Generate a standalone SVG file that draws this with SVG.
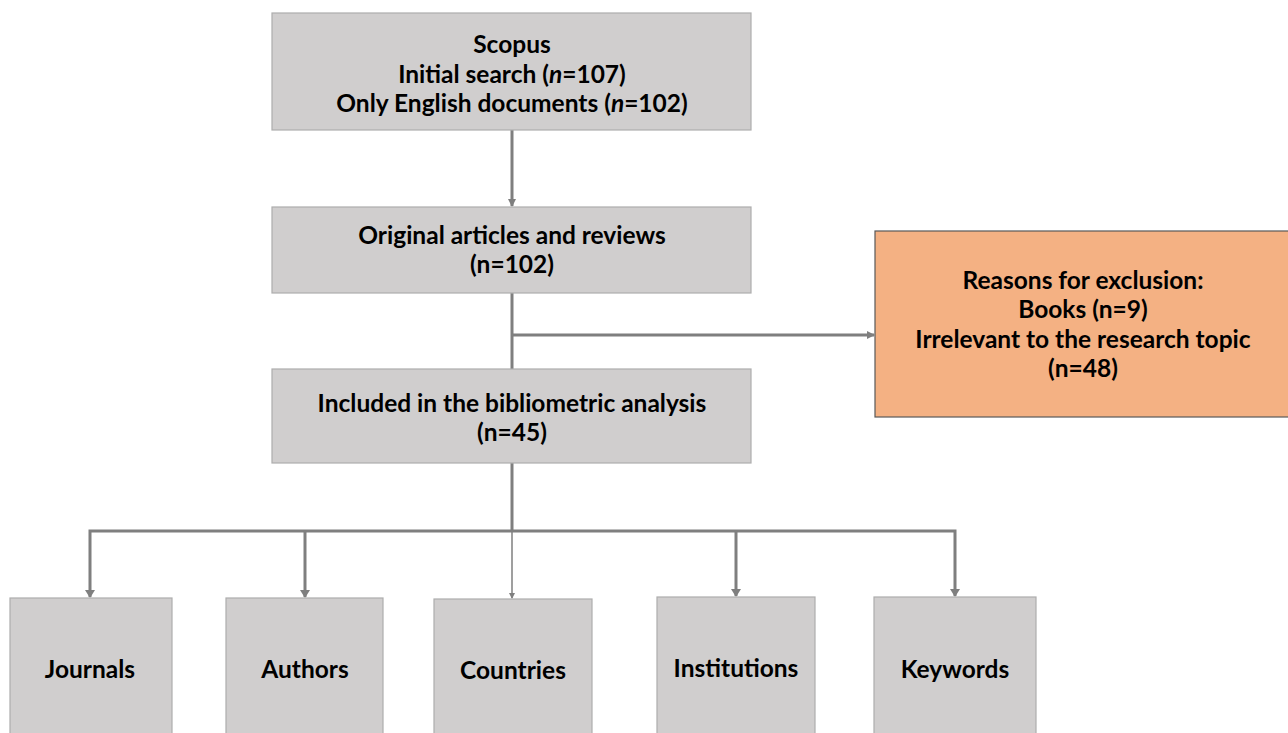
<svg xmlns="http://www.w3.org/2000/svg" width="1288" height="733" viewBox="0 0 1288 733">
<defs>
<style>
.box{fill:#D0CECE;stroke:#ADADAD;stroke-width:1.2}
.ex{fill:#F4B183;stroke:#595959;stroke-width:1.2}
.t{font-family:Lato,"Open Sans","Liberation Sans",sans-serif;font-weight:bold;font-size:24.5px;fill:#000;text-anchor:middle}
.c{fill:none;stroke:#7F7F7F;stroke-width:3}
.c2{fill:none;stroke:#7F7F7F;stroke-width:1.5}
</style>
<marker id="ah" markerWidth="6" markerHeight="6" refX="5" refY="3" orient="auto" markerUnits="userSpaceOnUse" viewBox="0 0 6 6"><path d="M0,0 L6,3 L0,6 z" fill="#7F7F7F"/></marker>
<marker id="ah2" markerWidth="8" markerHeight="8" refX="7" refY="4" orient="auto" markerUnits="userSpaceOnUse" viewBox="0 0 8 8"><path d="M0,0 L8,4 L0,8 z" fill="#7F7F7F"/></marker>
</defs>
<rect width="1288" height="733" fill="#fff"/>
<g id="connectors">
<line class="c" x1="512" y1="130" x2="512" y2="206" marker-end="url(#ah2)"/>
<line class="c" x1="512" y1="293" x2="512" y2="369"/>
<line class="c" x1="512" y1="335" x2="874" y2="335" marker-end="url(#ah2)"/>
<line class="c" x1="512" y1="463" x2="512" y2="531"/>
<polyline class="c" points="90,597 90,531 955,531 955,596"/>
<line class="c" x1="305" y1="531" x2="305" y2="597"/>
<line class="c" x1="736" y1="531" x2="736" y2="596"/>
<line class="c2" x1="512" y1="531" x2="512" y2="598" marker-end="url(#ah)"/>
<path d="M85,590 L95,590 L90,598 z M300,590 L310,590 L305,598 z M731,589 L741,589 L736,597 z M950,589 L960,589 L955,597 z" fill="#7F7F7F"/>
</g>
<g id="scopus">
<rect class="box" x="272" y="13" width="479" height="117"/>
<text class="t" x="512" y="53">Scopus</text>
<text class="t" x="512" y="83">Initial search (<tspan font-style="italic">n</tspan>=107)</text>
<text class="t" x="512" y="112">Only English documents (<tspan font-style="italic">n</tspan>=102)</text>
</g>
<g id="original">
<rect class="box" x="272" y="207" width="479" height="86"/>
<text class="t" x="512" y="244">Original articles and reviews</text>
<text class="t" x="512" y="273">(n=102)</text>
</g>
<g id="included">
<rect class="box" x="272" y="369" width="479" height="94"/>
<text class="t" x="512" y="412">Included in the bibliometric analysis</text>
<text class="t" x="512" y="441">(n=45)</text>
</g>
<g id="exclusion">
<rect class="ex" x="875" y="231" width="414" height="186"/>
<text class="t" x="1083" y="289">Reasons for exclusion:</text>
<text class="t" x="1083" y="318">Books (n=9)</text>
<text class="t" x="1083" y="348">Irrelevant to the research topic</text>
<text class="t" x="1083" y="377">(n=48)</text>
</g>
<g id="journals">
<rect class="box" x="10" y="598" width="162" height="140"/>
<text class="t" x="90" y="678">Journals</text>
</g>
<g id="authors">
<rect class="box" x="226" y="598" width="157" height="140"/>
<text class="t" x="305" y="678">Authors</text>
</g>
<g id="countries">
<rect class="box" x="434" y="599" width="158" height="140"/>
<text class="t" x="513" y="679">Countries</text>
</g>
<g id="institutions">
<rect class="box" x="657" y="597" width="158" height="140"/>
<text class="t" x="736" y="677">Institutions</text>
</g>
<g id="keywords">
<rect class="box" x="874" y="597" width="162" height="140"/>
<text class="t" x="955" y="678">Keywords</text>
</g>
</svg>
